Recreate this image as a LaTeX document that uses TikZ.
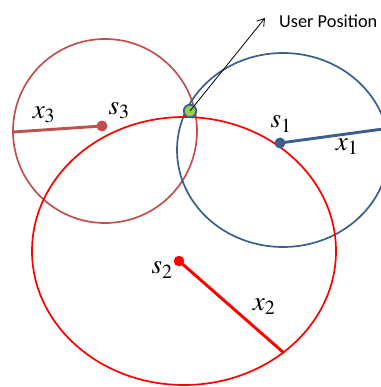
\documentclass[tikz,border=0pt]{standalone}
\usepackage{mathptmx}
\usepackage[no-math]{fontspec}
\usetikzlibrary{arrows.meta}
\newfontfamily\captionFont{Carlito}
\definecolor{stationOne}{HTML}{3A5F8F}
\definecolor{stationTwo}{HTML}{FF0000}
\definecolor{stationThree}{HTML}{C0504D}
\definecolor{userGreen}{HTML}{92D050}
\newcommand{\rangeCircle}[4]{%%
  %% A range circle round a station.
  \draw[circleStyle,#4] (#1) ellipse [x radius=#2 pt, y radius=#3 pt];
}

\begin{document}
\begin{tikzpicture}[x=1pt,y=-1pt,%%
  circleStyle/.style={line width=1.7pt},%%
  rangeStyle/.style={line width=2.9pt},%%
  dotStyle/.style={circle,inner sep=0pt,minimum size=10.5pt,draw=none},%%
  labelStyle/.style={inner sep=0pt,font=\fontsize{27}{32}\selectfont},%%
  userStyle/.style={circle,inner sep=0pt,minimum size=12.5pt,draw=stationOne,line width=1.8pt,fill=userGreen},%%
  arrowStyle/.style={-{Straight Barb[length=7pt,width=9pt]},line width=0.8pt}%%
]
\useasboundingbox (0,0) rectangle (380,387);
%%
%% Centres of the range circles.
\coordinate (cOne) at (283,150);
\coordinate (cTwo) at (184,251);
\coordinate (cThree) at (105,131);
%% Ends of the range lines.
\coordinate (xOneEnd) at (383,129);
\coordinate (xTwoEnd) at (284,353);
\coordinate (xThreeEnd) at (13,132);
\coordinate (arrowEnd) at (265,18);
%%
%% The range circles.
\rangeCircle{cThree}{92}{92}{stationThree}
\rangeCircle{cOne}{106}{97}{stationOne}
\rangeCircle{cTwo}{152}{134}{stationTwo}
%%
%% Station three.
\node[dotStyle,fill=stationThree,minimum width=11pt,minimum height=9pt] (sThree) at (102,126) {};
\draw[rangeStyle,stationThree] (sThree.center) -- (xThreeEnd);
\node[labelStyle] (sThreeName) at (119,111) {$s_3$};
\node[labelStyle] (xThreeName) at (44,115) {$x_3$};
%% Station one.
\node[dotStyle,fill=stationOne,minimum width=11pt,minimum height=9pt] (sOne) at (280,143) {};
\draw[rangeStyle,stationOne] (sOne.center) -- (xOneEnd);
\node[labelStyle] (sOneName) at (281,124) {$s_1$};
\node[labelStyle] (xOneName) at (347,147) {$x_1$};
%% Station two.
\node[dotStyle,fill=stationTwo] (sTwo) at (179,261) {};
\draw[rangeStyle,stationTwo] (sTwo.center) -- (xTwoEnd);
\node[labelStyle] (sTwoName) at (162,270) {$s_2$};
\node[labelStyle] (xTwoName) at (264,307) {$x_2$};
%%
%% The user position.
\node[userStyle] (user) at (190,111) {};
\draw[arrowStyle] (user.center) -- (arrowEnd);
\node[anchor=west,inner sep=0pt,font=\captionFont\fontsize{18.3}{22}\selectfont] (userName) at (279,21) {User Position};
\end{tikzpicture}
\end{document}
